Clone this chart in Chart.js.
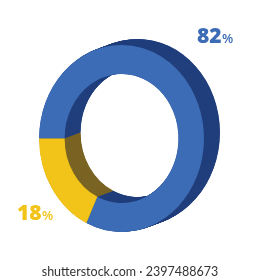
<!DOCTYPE html>
<html><head><meta charset="utf-8">
<script src="https://cdn.jsdelivr.net/npm/chart.js@4/dist/chart.umd.min.js"></script>
<style>html,body{margin:0;padding:0;background:#fff;overflow:hidden}</style>
</head><body>
<canvas id="c" width="260" height="280"></canvas>
<script>
// ---- data ----
const categories = ['Blue', 'Yellow'];
const values = [82, 18];
const valueLabels = ['82', '18'];
const percentSign = '%';
const faceColors = ['#3c6cb5', '#f2c41a'];
const sideColors = ['#213f7c', '#7a6424'];
const labelColors = ['#3c6cb5', '#f2c41a'];
const watermark = 'shutterstock.com · 2397488673';

// ---- 3D look ----
const SX = 0.882;          // horizontal squash of the ring
const DX = 16, DY = -6;    // extrusion depth in pixels

function arcPath(ctx, a) {
  const p = a.getProps(['x','y','startAngle','endAngle','innerRadius','outerRadius'], true);
  ctx.beginPath();
  ctx.arc(p.x, p.y, p.outerRadius, p.startAngle, p.endAngle);
  ctx.arc(p.x, p.y, p.innerRadius, p.endAngle, p.startAngle, true);
  ctx.closePath();
}

const ring3d = {
  id: 'ring3d',
  beforeDatasetsDraw(chart) {
    const ctx = chart.ctx;
    const meta = chart.getDatasetMeta(0);
    const cx = meta.data[0].x;
    ctx.save();
    ctx.translate(cx, 0); ctx.scale(SX, 1); ctx.translate(-cx, 0);
    const N = 48;
    for (let i = N; i >= 1; i--) {
      ctx.save();
      ctx.translate(DX * i / N / SX, DY * i / N);
      meta.data.forEach((a, j) => { arcPath(ctx, a); ctx.fillStyle = sideColors[j]; ctx.fill(); });
      ctx.restore();
    }
  },
  afterDatasetsDraw(chart) {
    const ctx = chart.ctx;
    ctx.restore();
    // value labels
    const pos = [[197, 43], [17, 220]];
    ctx.save();
    ctx.textBaseline = 'alphabetic';
    ctx.textAlign = 'left';
    valueLabels.forEach((t, j) => {
      ctx.fillStyle = labelColors[j];
      ctx.font = '800 21px "Open Sans", sans-serif';
      ctx.fillText(t, pos[j][0], pos[j][1]);
      const w = ctx.measureText(t).width;
      ctx.font = '600 13px "Open Sans", sans-serif';
      ctx.fillText(percentSign, pos[j][0] + w + 0.5, pos[j][1]);
    });
    ctx.fillStyle = '#333333';
    ctx.font = '12.5px Lato, sans-serif';
    ctx.textAlign = 'center';
    ctx.fillText(watermark, 130, 276);
    ctx.restore();
  }
};

new Chart(document.getElementById('c'), {
  type: 'doughnut',
  data: {
    labels: categories,
    datasets: [{
      data: values,
      backgroundColor: faceColors,
      borderWidth: 0,
      hoverBorderWidth: 0,
      hoverOffset: 0
    }]
  },
  options: {
    responsive: false,
    animation: false,
    events: [],
    rotation: 270,
    cutout: '69%',
    layout: { padding: { left: 28, right: 45, top: 45, bottom: 48 } },
    plugins: { legend: { display: false }, tooltip: { enabled: false } }
  },
  plugins: [ring3d]
});
</script>
</body></html>
